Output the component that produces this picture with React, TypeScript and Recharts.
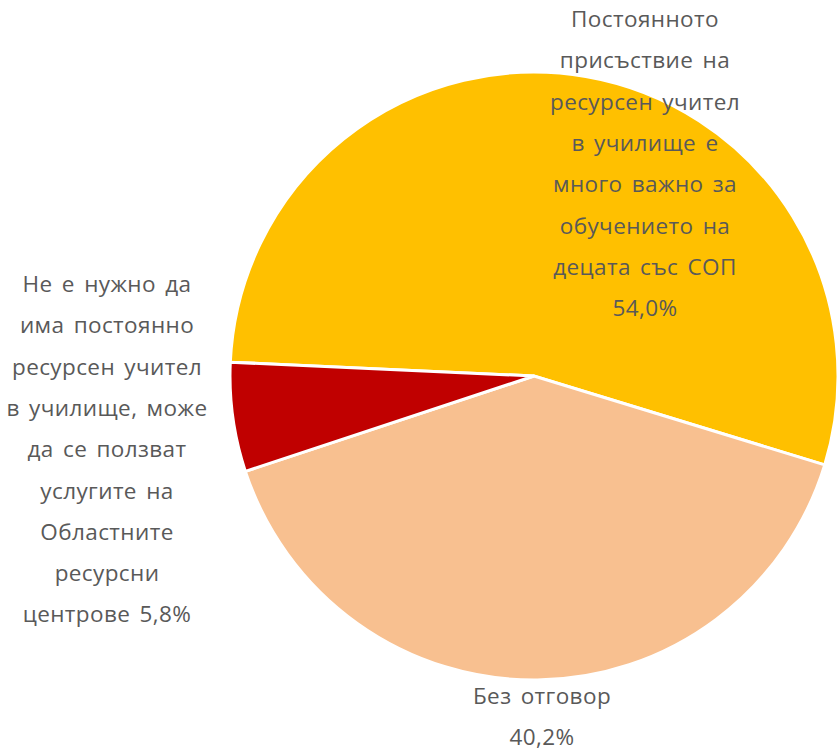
import { Cell, Pie, PieChart } from "recharts";

const categories = [
  "Постоянното присъствие на ресурсен учител в училище е много важно за обучението на децата със СОП",
  "Без отговор",
  "Не е нужно да има постоянно ресурсен учител в училище, може да се ползват услугите на Областните ресурсни центрове",
];
const values = [54.0, 40.2, 5.8];
const labelLines = [
  ["Постоянното", "присъствие на", "ресурсен учител", "в училище е", "много важно за", "обучението на", "децата със СОП", "54,0%"],
  ["Без отговор", "40,2%"],
  ["Не е нужно да", "има постоянно", "ресурсен учител", "в училище, може", "да се ползват", "услугите на", "Областните", "ресурсни", "центрове 5,8%"],
];
const colors = ["#FFC000", "#F8C090", "#C00000"];

// label anchor offsets from the pie centre (x centre, first baseline)
const labelOffsets = [
  { dx: 111, dy: -349 },
  { dx: 8, dy: 328 },
  { dx: -427, dy: -84 },
];

const data = categories.map((name, i) => ({ name, value: values[i] }));

const LINE_H = 41.3;

function renderLabel(props: any) {
  const { cx, cy, index } = props;
  const off = labelOffsets[index];
  const x = cx + off.dx;
  return (
    <text
      x={x}
      y={cy + off.dy}
      textAnchor="middle"
      fill="#595959"
      fontSize={22.5}
      letterSpacing={0.4}
      wordSpacing={3}
      fontFamily="'Open Sans', 'Noto Sans', sans-serif"
    >
      {labelLines[index].map((line, i) => (
        <tspan key={i} x={x} dy={i === 0 ? 0 : LINE_H}>
          {line}
        </tspan>
      ))}
    </text>
  );
}

export default function App() {
  return (
    <div style={{ position: "absolute", left: 0, top: 0, width: 839, height: 750, background: "#fff" }}>
      <PieChart width={839} height={750} margin={{ top: 0, right: 0, bottom: 0, left: 0 }}>
        <Pie
          data={data}
          dataKey="value"
          nameKey="name"
          cx={534}
          cy={376}
          outerRadius={304}
          startAngle={177.4}
          endAngle={-182.6}
          stroke="#ffffff"
          strokeWidth={3}
          label={renderLabel}
          labelLine={false}
          isAnimationActive={false}
        >
          {data.map((d, i) => (
            <Cell key={d.name} fill={colors[i]} />
          ))}
        </Pie>
      </PieChart>
    </div>
  );
}
